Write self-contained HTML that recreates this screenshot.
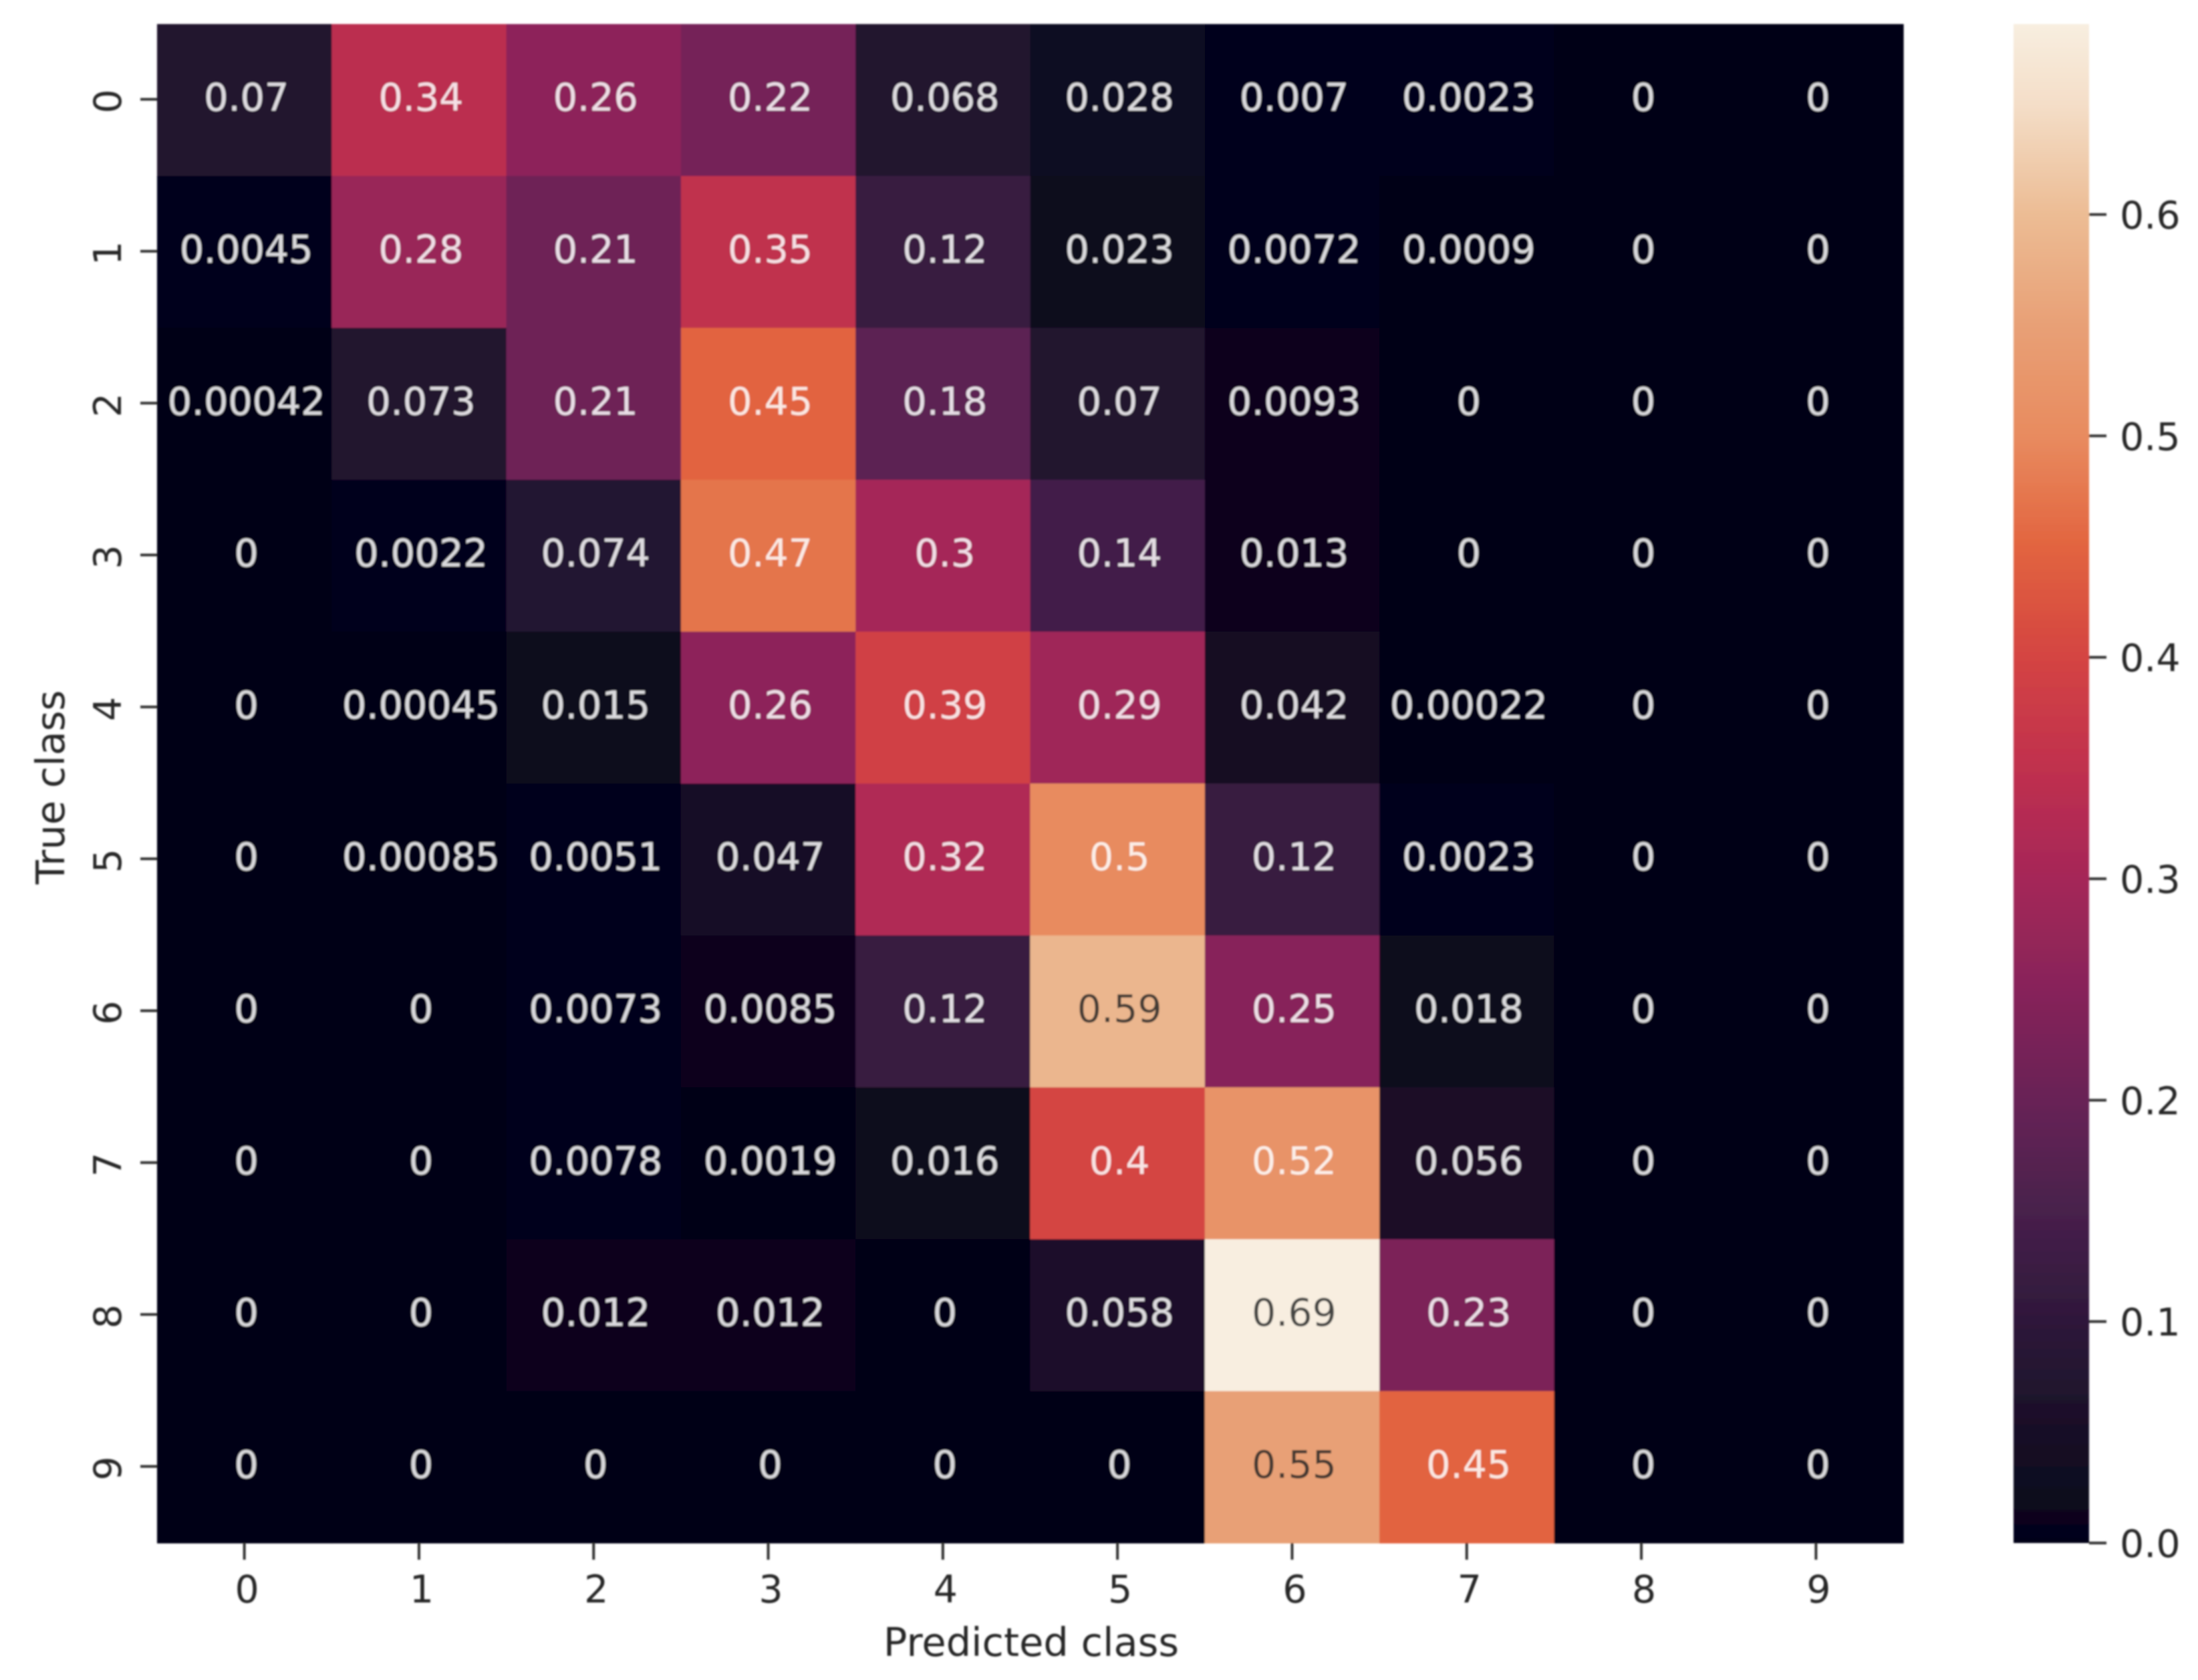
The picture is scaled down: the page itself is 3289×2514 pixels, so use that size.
<!DOCTYPE html>
<html>
<head>
<meta charset="utf-8">
<title>Confusion matrix heatmap</title>
<style>
html,body{margin:0;padding:0;background:#fff;}
svg{display:block;}
text{font-family:"DejaVu Sans","Liberation Sans",sans-serif;}
</style>
</head>
<body>
<svg id="chart" xmlns="http://www.w3.org/2000/svg" width="3289" height="2514" viewBox="0 0 3289 2514">
<defs>
<filter id="soft" x="0" y="0" width="100%" height="100%" filterUnits="userSpaceOnUse" primitiveUnits="userSpaceOnUse"><feGaussianBlur stdDeviation="1.4"/></filter>
<linearGradient id="cbar-gradient" x1="0" y1="1" x2="0" y2="0"></linearGradient>
</defs>
<rect width="3289" height="2514" fill="#ffffff"/>
<g id="root" filter="url(#soft)"></g>
</svg>
<script>
const predictedClasses = ["0","1","2","3","4","5","6","7","8","9"];
const trueClasses = ["0","1","2","3","4","5","6","7","8","9"];
const row0 = [0.07, 0.34, 0.26, 0.22, 0.068, 0.028, 0.007, 0.0023, 0, 0];
const row1 = [0.0045, 0.28, 0.21, 0.35, 0.12, 0.023, 0.0072, 0.0009, 0, 0];
const row2 = [0.00042, 0.073, 0.21, 0.45, 0.18, 0.07, 0.0093, 0, 0, 0];
const row3 = [0, 0.0022, 0.074, 0.47, 0.3, 0.14, 0.013, 0, 0, 0];
const row4 = [0, 0.00045, 0.015, 0.26, 0.39, 0.29, 0.042, 0.00022, 0, 0];
const row5 = [0, 0.00085, 0.0051, 0.047, 0.32, 0.5, 0.12, 0.0023, 0, 0];
const row6 = [0, 0, 0.0073, 0.0085, 0.12, 0.59, 0.25, 0.018, 0, 0];
const row7 = [0, 0, 0.0078, 0.0019, 0.016, 0.4, 0.52, 0.056, 0, 0];
const row8 = [0, 0, 0.012, 0.012, 0, 0.058, 0.69, 0.23, 0, 0];
const row9 = [0, 0, 0, 0, 0, 0, 0.55, 0.45, 0, 0];
const matrixRows = [row0, row1, row2, row3, row4, row5, row6, row7, row8, row9];
const colorbarTicks = ["0.0","0.1","0.2","0.3","0.4","0.5","0.6"];
const colormapValues = [0, 0.05, 0.1, 0.15, 0.2, 0.25, 0.3, 0.35, 0.4, 0.45, 0.5, 0.55, 0.6, 0.65, 0.69];
const colormapColors = [[3,3,25],[24,15,38],[46,24,58],[72,32,76],[104,35,86],[135,36,90],[165,38,88],[192,48,78],[212,68,66],[226,100,63],[232,139,95],[232,160,118],[236,188,148],[244,222,200],[248,238,224]];
const xAxisTitle = "Predicted class";
const yAxisTitle = "True class";

const NS = "http://www.w3.org/2000/svg";
const root = document.getElementById("root");
const left = 235, right = 2848, top_ = 36, bottom = 2309;
const cbLeft = 3013, cbRight = 3126, cbTop = 36;
const valueMax = 0.686;
const fontSize = 57;

function xAxis(i) { return left + (right - left) * (i + 0.5) / predictedClasses.length; }
function yAxis(i) { return top_ + (bottom - top_) * (i + 0.5) / trueClasses.length; }
function cbAxis(v) { return bottom - (bottom - cbTop) * v / valueMax; }
function colorFor(v) {
  let k = 0;
  while (k < colormapValues.length - 2 && v > colormapValues[k + 1]) k++;
  const t = Math.min(1, Math.max(0, (v - colormapValues[k]) / (colormapValues[k + 1] - colormapValues[k])));
  const a = colormapColors[k], b = colormapColors[k + 1];
  return "rgb(" + [0, 1, 2].map(function (c) { return Math.round(a[c] + (b[c] - a[c]) * t); }).join(",") + ")";
}
function make(tag, attrs, parent) {
  const el = document.createElementNS(NS, tag);
  for (const key in attrs) el.setAttribute(key, attrs[key]);
  (parent || root).appendChild(el);
  return el;
}

// heatmap cells
const cellW = (right - left) / predictedClasses.length;
const cellH = (bottom - top_) / trueClasses.length;
matrixRows.forEach(function (row, r) {
  row.forEach(function (v, c) {
    const cell = make("rect", { x: xAxis(c) - cellW / 2, y: yAxis(r) - cellH / 2, width: cellW + 0.6, height: cellH + 0.6, fill: colorFor(v) });
    
    
  });
});
// annotations
matrixRows.forEach(function (row, r) {
  row.forEach(function (v, c) {
    const dark = v >= 0.55;
    const label = make("text", { x: xAxis(c) + 3, y: yAxis(r) + 16, "text-anchor": "middle", "font-size": fontSize, fill: dark ? "#262626" : "#ffffff", "fill-opacity": 0.85 });
    label.textContent = String(v);
    
    
  });
});
// x axis
predictedClasses.forEach(function (name, i) {
  const tick = make("line", { x1: xAxis(i), x2: xAxis(i), y1: bottom, y2: bottom + 25, stroke: "#333", "stroke-width": 4 });
  
  
  const label = make("text", { x: xAxis(i) + 4, y: 2398, "text-anchor": "middle", "font-size": fontSize, fill: "#262626" });
  label.textContent = name;
  
  
});
// y axis
trueClasses.forEach(function (name, i) {
  const tick = make("line", { x1: left - 25, x2: left, y1: yAxis(i) - 1, y2: yAxis(i) - 1, stroke: "#333", "stroke-width": 4 });
  
  
  const label = make("text", { transform: "translate(181," + (yAxis(i) + 2) + ") rotate(-90)", "text-anchor": "middle", "font-size": fontSize, fill: "#262626" });
  label.textContent = name;
  
  
});
// axis titles
const xTitle = make("text", { x: 1543, y: 2478, "text-anchor": "middle", "font-size": 59, fill: "#262626" });
xTitle.textContent = xAxisTitle;


const yTitle = make("text", { transform: "translate(96,1178) rotate(-90)", "text-anchor": "middle", "font-size": 59, fill: "#262626" });
yTitle.textContent = yAxisTitle;


// colorbar
const gradient = document.getElementById("cbar-gradient");
colormapValues.forEach(function (v, i) {
  const stop = document.createElementNS(NS, "stop");
  stop.setAttribute("offset", Math.min(1, v / valueMax));
  stop.setAttribute("stop-color", "rgb(" + colormapColors[i].join(",") + ")");
  gradient.appendChild(stop);
});
const colorbar = make("rect", { x: cbLeft, y: cbTop, width: cbRight - cbLeft, height: bottom - cbTop, fill: "url(#cbar-gradient)" });


colorbarTicks.forEach(function (name) {
  const v = parseFloat(name);
  const tick = make("line", { x1: cbRight, x2: cbRight + 26, y1: cbAxis(v), y2: cbAxis(v), stroke: "#333", "stroke-width": 4 });
  
  
  const label = make("text", { x: 3172, y: cbAxis(v) + 21, "font-size": fontSize, fill: "#262626" });
  label.textContent = name;
  
  
});
</script>
</body>
</html>
